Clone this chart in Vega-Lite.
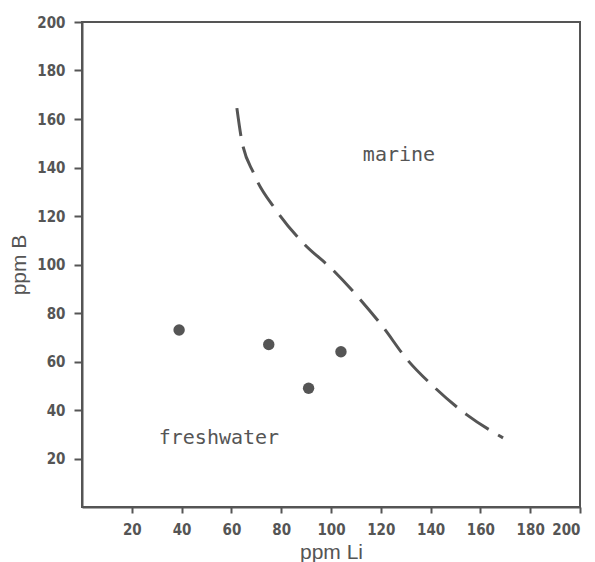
{
  "$schema": "https://vega.github.io/schema/vega-lite/v6.json",
  "autosize": {"type": "none"},
  "padding": {"left": 82, "top": 22, "right": 15, "bottom": 55},
  "width": 498,
  "height": 485,
  "background": "white",
  "config": {
    "view": {"stroke": "#555", "strokeWidth": 2},
    "axis": {
      "domainColor": "#555", "domainWidth": 2,
      "tickColor": "#555", "tickWidth": 2,
      "labelColor": "#555", "labelFont": "DejaVu Sans Condensed", "labelFontSize": 15, "labelFontWeight": "bold",
      "titleColor": "#555", "titleFont": "Liberation Sans", "titleFontSize": 21, "titleFontWeight": "normal",
      "grid": false
    }
  },
  "datasets": {
    "points": [
      {"li": 39, "b": 73},
      {"li": 75, "b": 67},
      {"li": 91, "b": 49},
      {"li": 104, "b": 64}
    ],
    "boundary": [
      {"li": 62.2, "b": 164.5},
      {"li": 63.9, "b": 152.6},
      {"li": 69.1, "b": 137.3},
      {"li": 77.9, "b": 122.5},
      {"li": 88.8, "b": 108.9},
      {"li": 100.8, "b": 97.7},
      {"li": 111.2, "b": 86.2},
      {"li": 120.9, "b": 74.2},
      {"li": 130.1, "b": 61.4},
      {"li": 141.8, "b": 49.1},
      {"li": 154.6, "b": 38.0},
      {"li": 169.1, "b": 28.5}
    ],
    "labels": [
      {"li": 127.3, "b": 145.2, "text": "marine"},
      {"li": 55, "b": 28.5, "text": "freshwater"}
    ]
  },
  "layer": [
    {
      "data": {"name": "boundary"},
      "mark": {"type": "line", "interpolate": "monotone", "color": "#555", "strokeWidth": 3, "strokeDash": [28, 11], "strokeCap": "butt"},
      "encoding": {
        "x": {"field": "li", "type": "quantitative", "scale": {"domain": [0, 200], "nice": false},
          "axis": {"title": "ppm Li", "values": [20, 40, 60, 80, 100, 120, 140, 160, 180, 200], "tickSize": 6, "labelPadding": 9, "titlePadding": 4}},
        "y": {"field": "b", "type": "quantitative", "scale": {"domain": [0, 200], "nice": false},
          "axis": {"title": "ppm B", "values": [20, 40, 60, 80, 100, 120, 140, 160, 180, 200], "tickSize": 8, "labelPadding": 9, "titlePadding": 7}}
      }
    },
    {
      "data": {"name": "points"},
      "mark": {"type": "circle", "size": 130, "color": "#555", "opacity": 1},
      "encoding": {
        "x": {"field": "li", "type": "quantitative"},
        "y": {"field": "b", "type": "quantitative"}
      }
    },
    {
      "data": {"name": "labels"},
      "mark": {"type": "text", "font": "DejaVu Sans Mono", "fontSize": 20, "color": "#555", "align": "center", "baseline": "middle"},
      "encoding": {
        "x": {"field": "li", "type": "quantitative"},
        "y": {"field": "b", "type": "quantitative"},
        "text": {"field": "text"}
      }
    }
  ]
}
